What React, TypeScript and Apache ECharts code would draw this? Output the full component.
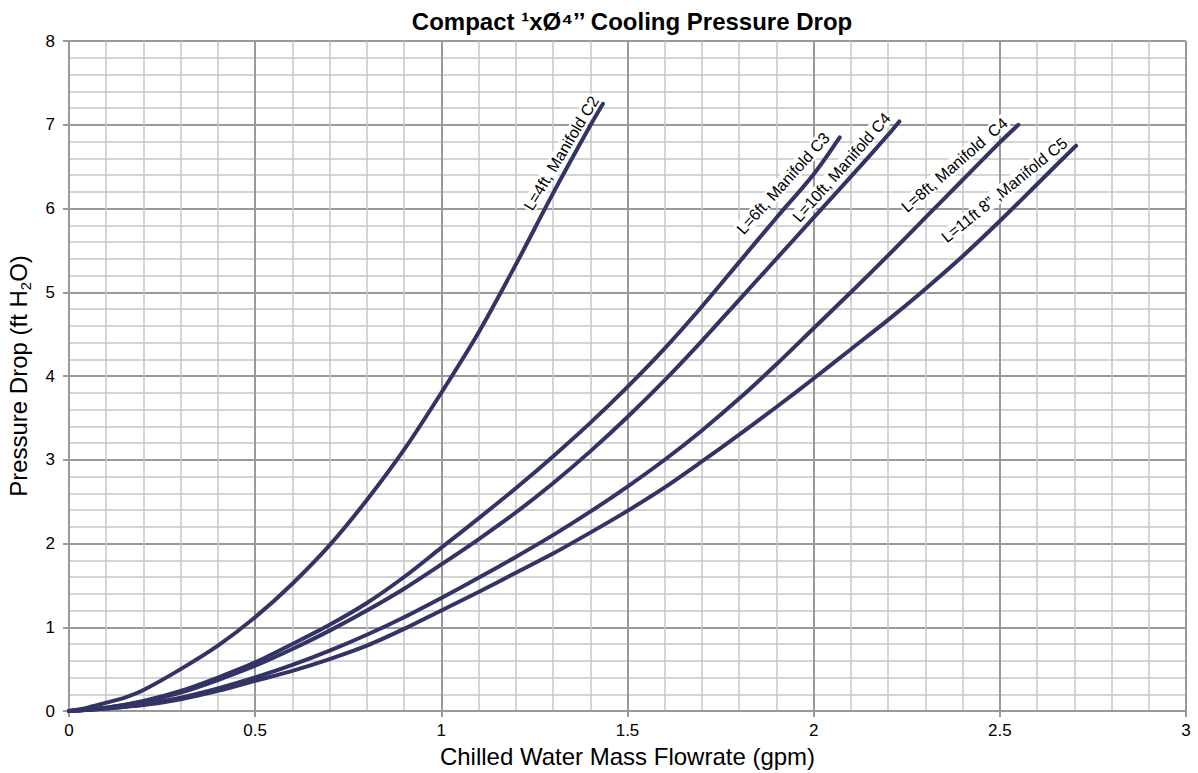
import React, { useEffect, useRef } from "react";
import * as echarts from "echarts";

const TITLE = "Compact ¹xØ⁴’’ Cooling Pressure Drop";
const X_NAME = "Chilled Water Mass Flowrate (gpm)";

const curveNames = [
  "L=4ft, Manifold C2",
  "L=6ft, Manifold C3",
  "L=10ft, Manifold C4",
  "L=8ft, Manifold  C4",
  "L=11ft 8” ,Manifold C5",
];

const c2x = [0, 0.05, 0.1, 0.15, 0.2, 0.3, 0.4, 0.5, 0.6, 0.7, 0.8, 0.9, 1.0, 1.1, 1.2, 1.3, 1.4, 1.434];
const c2y = [0, 0.04, 0.1, 0.16, 0.25, 0.5, 0.78, 1.12, 1.52, 1.98, 2.52, 3.12, 3.8, 4.52, 5.33, 6.18, 6.99, 7.25];

const c3x = [0, 0.1, 0.2, 0.3, 0.4, 0.5, 0.6, 0.7, 0.8, 0.9, 1.0, 1.1, 1.2, 1.3, 1.4, 1.5, 1.6, 1.7, 1.8, 1.9, 2.0, 2.07];
const c3y = [0, 0.04, 0.12, 0.24, 0.4, 0.58, 0.8, 1.03, 1.29, 1.6, 1.95, 2.3, 2.66, 3.04, 3.44, 3.87, 4.33, 4.83, 5.36, 5.89, 6.41, 6.85];

const c4ax = [0, 0.1, 0.2, 0.3, 0.4, 0.5, 0.6, 0.7, 0.8, 0.9, 1.0, 1.1, 1.2, 1.3, 1.4, 1.5, 1.6, 1.7, 1.8, 1.9, 2.0, 2.1, 2.2, 2.23];
const c4ay = [0, 0.04, 0.11, 0.22, 0.37, 0.54, 0.74, 0.96, 1.2, 1.46, 1.75, 2.05, 2.37, 2.72, 3.1, 3.51, 3.95, 4.42, 4.91, 5.4, 5.89, 6.38, 6.88, 7.04];

const c4bx = [0, 0.1, 0.2, 0.3, 0.4, 0.5, 0.6, 0.7, 0.8, 0.9, 1.0, 1.1, 1.2, 1.3, 1.4, 1.5, 1.6, 1.7, 1.8, 1.9, 2.0, 2.1, 2.2, 2.3, 2.4, 2.5, 2.55];
const c4by = [0, 0.03, 0.08, 0.16, 0.27, 0.4, 0.55, 0.72, 0.91, 1.12, 1.35, 1.59, 1.84, 2.1, 2.38, 2.68, 3.0, 3.35, 3.73, 4.14, 4.57, 5.0, 5.44, 5.89, 6.34, 6.79, 7.0];

const c5x = [0, 0.1, 0.2, 0.3, 0.4, 0.5, 0.6, 0.7, 0.8, 0.9, 1.0, 1.1, 1.2, 1.3, 1.4, 1.5, 1.6, 1.7, 1.8, 1.9, 2.0, 2.1, 2.2, 2.3, 2.4, 2.5, 2.6, 2.7, 2.705];
const c5y = [0, 0.03, 0.07, 0.14, 0.24, 0.36, 0.48, 0.62, 0.78, 0.98, 1.2, 1.42, 1.65, 1.88, 2.13, 2.39, 2.67, 2.98, 3.3, 3.63, 3.97, 4.32, 4.67, 5.04, 5.43, 5.85, 6.29, 6.73, 6.75];

const curvesX = [c2x, c3x, c4ax, c4bx, c5x];
const curvesY = [c2y, c3y, c4ay, c4by, c5y];

// label anchor (data coords) and on-screen angle in degrees
const labelX = [1.322, 1.918, 2.075, 2.378, 2.512];
const labelY = [6.66, 6.3, 6.49, 6.52, 6.22];
const labelAngle = [59, 48, 48.6, 41, 39];

const LINE_COLOR = "#333366";

export default function App() {
  const ref = useRef<HTMLDivElement>(null);
  useEffect(() => {
    document.body.style.margin = "0";
    const chart = echarts.init(ref.current!, null, { renderer: "svg" });
    const font = "'Liberation Sans', Arial, sans-serif";
    chart.setOption({
      animation: false,
      backgroundColor: "#ffffff",
      textStyle: { fontFamily: font },
      title: {
        text: TITLE,
        left: 627,
        textAlign: "center",
        top: 4,
        textStyle: { fontFamily: font, fontSize: 24, fontWeight: "bold", color: "#000" },
      },
      grid: { left: 69, right: 12, top: 41, bottom: 62, containLabel: false, outerBoundsMode: "none" },
      xAxis: {
        type: "value",
        min: 0,
        max: 3,
        interval: 0.5,
        name: X_NAME,
        nameLocation: "middle",
        nameGap: 33,
        nameTextStyle: { fontFamily: font, fontSize: 24, color: "#000" },
        axisLine: { show: true, lineStyle: { color: "#999", width: 2 } },
        axisTick: { show: true, length: 6, lineStyle: { color: "#999", width: 2 } },
        axisLabel: { fontFamily: font, fontSize: 17, color: "#000", margin: 11 },
        splitLine: { show: true, lineStyle: { color: "#999", width: 2 } },
        minorTick: { show: false, splitNumber: 5 },
        minorSplitLine: { show: true, lineStyle: { color: "#c6c6c6", width: 1.5 } },
      },
      yAxis: {
        type: "value",
        min: 0,
        max: 8,
        interval: 1,
        name: "{a|Pressure Drop (ft H}{s|2}{a|O)}",
        nameLocation: "middle",
        nameGap: 36,
        nameTextStyle: {
          fontFamily: font,
          color: "#000",
          rich: {
            a: { fontFamily: font, fontSize: 24, color: "#000" },
            s: { fontFamily: font, fontSize: 15, color: "#000", verticalAlign: "bottom", padding: [14, 0, 0, 0] },
          },
        },
        axisLine: { show: true, lineStyle: { color: "#999", width: 2 } },
        axisTick: { show: true, length: 6, lineStyle: { color: "#999", width: 2 } },
        axisLabel: { fontFamily: font, fontSize: 17, color: "#000", margin: 14 },
        splitLine: { show: true, lineStyle: { color: "#999", width: 2 } },
        minorTick: { show: false, splitNumber: 5 },
        minorSplitLine: { show: true, lineStyle: { color: "#c6c6c6", width: 1.5 } },
      },
      series: curvesX.map((xs, i) => ({
        type: "line",
        name: curveNames[i],
        data: xs.map((x, j) => [x, curvesY[i][j]]),
        smooth: 0.3,
        showSymbol: false,
        symbol: "none",
        lineStyle: { color: LINE_COLOR, width: 4, cap: "round" },
        z: 3,
      })),
    });
    const graphics = labelX.map((lx, i) => {
      const p = chart.convertToPixel({ gridIndex: 0 }, [lx, labelY[i]]) as number[];
      return {
        type: "text",
        x: p[0],
        y: p[1],
        rotation: (labelAngle[i] * Math.PI) / 180,
        z: 10,
        style: {
          text: curveNames[i],
          fontFamily: font,
          fontSize: 16,
          fill: "#000",
          align: "center",
          verticalAlign: "middle",
          backgroundColor: "#fff",
          padding: [0, 1, 0, 1],
        },
      };
    });
    chart.setOption({ graphic: graphics });
    return () => chart.dispose();
  }, []);
  return <div ref={ref} style={{ position: "fixed", left: 0, top: 0, width: 1198, height: 773 }} />;
}
